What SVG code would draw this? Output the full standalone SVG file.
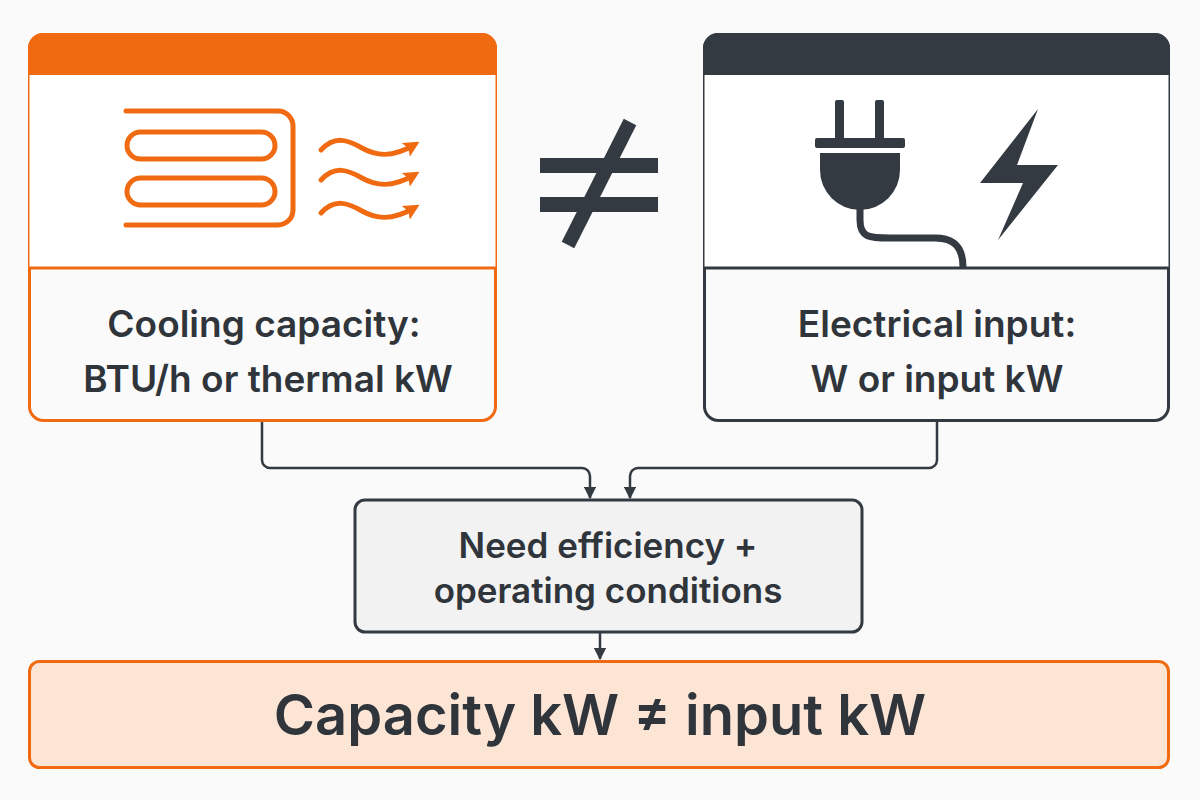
<svg xmlns="http://www.w3.org/2000/svg" width="1200" height="800" viewBox="0 0 1200 800">
<defs>
<style>
text{font-family:Inter,"Noto Sans",sans-serif;font-weight:600;fill:#2f353b;text-anchor:middle}
.o{fill:none;stroke:#f06a12;stroke-width:5;stroke-linecap:round}
.c{fill:none;stroke:#333a41;stroke-width:2.5}
</style>
<marker id="a" viewBox="0 0 10 10" refX="9" refY="5" markerWidth="5" markerHeight="5" orient="auto"><path d="M0,0L10,5L0,10z" fill="#333a41"/></marker>
<marker id="w" viewBox="0 0 10 10" refX="6" refY="5" markerWidth="3.2" markerHeight="3.2" orient="auto"><path d="M0,0L10,5L0,10L2,5z" fill="#f06a12"/></marker>
</defs>
<rect width="1200" height="800" fill="#fafafa"/>
<g id="cooling">
<path d="M28,75V48a15,15 0 0 1 15-15H482a15,15 0 0 1 15,15V75z" fill="#f06a12"/>
<rect x="29.5" y="34.5" width="466" height="386" rx="14" fill="none" stroke="#f06a12" stroke-width="3"/>
<rect x="29.5" y="75" width="466" height="193" fill="#fff"/>
<line x1="29" y1="268" x2="496" y2="268" stroke="#f06a12" stroke-width="3"/>
<path class="o" d="M126,111H278a15,15 0 0 1 15,15V210a15,15 0 0 1-15,15H126" stroke-width="4"/>
<rect x="127" y="132" width="148" height="27" rx="13.5" class="o" stroke-width="4"/>
<rect x="127" y="178" width="148" height="27" rx="13.5" class="o" stroke-width="4"/>
<path class="o" d="M321,150C335,135 348,140 362,148S392,158 414,145" marker-end="url(#w)"/>
<path class="o" d="M321,180C335,165 348,170 362,178S392,188 414,175" marker-end="url(#w)"/>
<path class="o" d="M321,213C335,198 348,203 362,211S392,221 414,208" marker-end="url(#w)"/>
<text x="264" y="337" font-size="37">Cooling capacity:</text>
<text x="268" y="392" font-size="37">BTU/h or thermal kW</text>
</g>
<g id="neq" fill="#333a41">
<rect x="540" y="158" width="118" height="15"/>
<rect x="540" y="197" width="118" height="15"/>
<line x1="630" y1="122" x2="568" y2="245" stroke="#333a41" stroke-width="14"/>
</g>
<g id="electrical">
<path d="M703,75V48a15,15 0 0 1 15-15H1155a15,15 0 0 1 15,15V75z" fill="#333a41"/>
<rect x="704.5" y="34.5" width="464" height="386" rx="14" fill="none" stroke="#333a41" stroke-width="3"/>
<rect x="704.5" y="75" width="464" height="193" fill="#fff"/>
<line x1="704" y1="268" x2="1169" y2="268" stroke="#333a41" stroke-width="3"/>
<g fill="#333a41">
<rect x="835" y="100" width="9" height="40" rx="2"/>
<rect x="875" y="100" width="9" height="40" rx="2"/>
<rect x="815" y="138" width="90" height="10" rx="2"/>
<path d="M820,153H900V170a40,40 0 0 1-80,0z"/>
<path d="M1038,109L980,183H1023L998,240L1058,165H1017z"/>
</g>
<path d="M860,208V220C860,238 870,238 890,238H935C955,238 963,248 963,267" fill="none" stroke="#333a41" stroke-width="7"/>
<text x="937" y="337" font-size="37">Electrical input:</text>
<text x="937" y="392" font-size="37">W or input kW</text>
</g>
<g id="need">
<rect x="355" y="500" width="507" height="132" rx="10" fill="#f2f2f2" stroke="#333a41" stroke-width="3"/>
<text x="608" y="558" font-size="35">Need efficiency +</text>
<text x="608" y="603" font-size="35">operating conditions</text>
</g>
<g id="result">
<rect x="29.5" y="661.5" width="1139" height="106" rx="10" fill="#fde5d6" stroke="#f06a12" stroke-width="3"/>
<text x="600" y="735" font-size="56">Capacity kW ≠ input kW</text>
</g>
<g id="connectors">
<path class="c" d="M262,422V460a8,8 0 0 0 8,8H582a8,8 0 0 1 8,8V498" marker-end="url(#a)"/>
<path class="c" d="M937,422V460a8,8 0 0 1-8,8H638a8,8 0 0 0-8,8V498" marker-end="url(#a)"/>
<path class="c" d="M600,632V659" marker-end="url(#a)"/>
</g>
</svg>
